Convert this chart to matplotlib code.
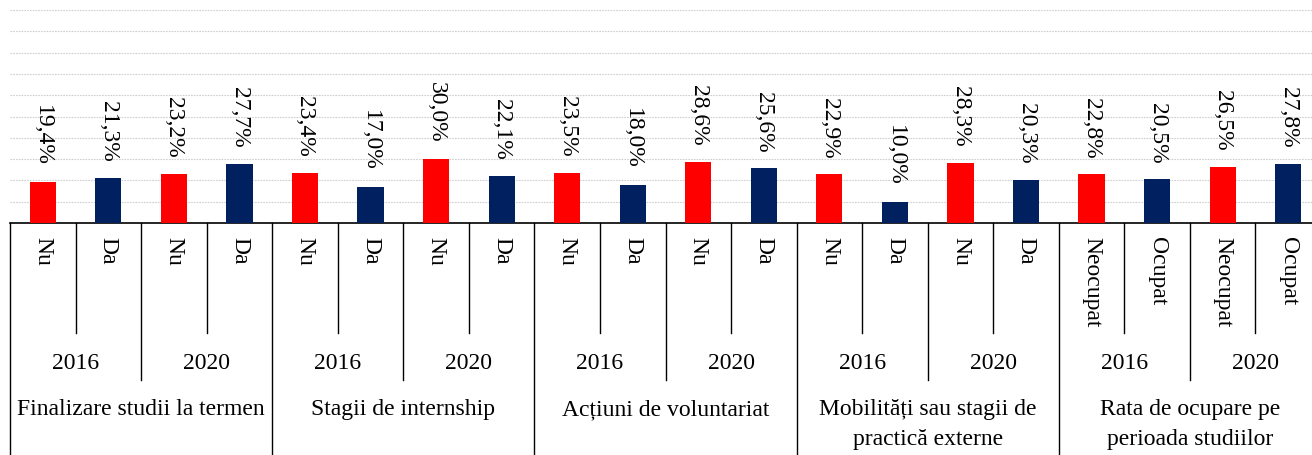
import matplotlib
matplotlib.use("Agg")
import matplotlib.pyplot as plt
from matplotlib.transforms import blended_transform_factory

plt.rcParams.update({'font.family': ['Liberation Serif', 'DejaVu Serif'], 'font.size': 17})

# grouped data: indicator -> year -> answer
groups = ['Finalizare studii la termen', 'Stagii de internship', 'Acțiuni de voluntariat',
          'Mobilități sau stagii de\npractică externe', 'Rata de ocupare pe\nperioada studiilor']
years = ['2016', '2020']
answers = [['Nu', 'Da'], ['Nu', 'Da'], ['Nu', 'Da'], ['Nu', 'Da'], ['Neocupat', 'Ocupat']]
values = [
    [19.4, 21.3, 23.2, 27.7],
    [23.4, 17.0, 30.0, 22.1],
    [23.5, 18.0, 28.6, 25.6],
    [22.9, 10.0, 28.3, 20.3],
    [22.8, 20.5, 26.5, 27.8],
]
colors = ['#ff0000', '#002060']

W, H = 1312, 455
fig = plt.figure(figsize=(W / 100, H / 100), dpi=100)
# axes run a little past the right edge of the canvas
ax = fig.add_axes([10 / W, 1 - 223 / H, 1311 / W, 213 / H])

labels, vals, cols = [], [], []
for g in range(len(groups)):
    for y in range(len(years)):
        for a in range(2):
            labels.append(answers[g][a])
            vals.append(values[g][2 * y + a])
            cols.append(colors[a])
xs = list(range(len(vals)))

ax.bar(xs, vals, width=0.4, color=cols, zorder=3)
for x, v in zip(xs, vals):
    ax.annotate(f'{v:.1f}%'.replace('.', ','), (x, v), xytext=(0, 16), textcoords='offset pixels',
                rotation=270, ha='center', va='bottom')

ax.set_xlim(-0.5, len(vals) - 0.5)
ax.set_ylim(0, 100)
ax.set_yticks(range(10, 101, 10))
ax.yaxis.grid(True, linestyle=(0, (1.5, 1)), color='#cfcfcf', linewidth=0.8, zorder=0)
ax.set_xticks([])
ax.tick_params(left=False, labelleft=False)
for s in ['top', 'right', 'left']:
    ax.spines[s].set_visible(False)
ax.spines['bottom'].set_color('black')
ax.spines['bottom'].set_linewidth(1.2)

# multi-level category axis below the plot
tr = blended_transform_factory(ax.transData, ax.transAxes)
px = 1 / 213
for k in range(len(vals) + 1):
    if k % 4 == 0:
        y0 = -1.2
    elif k % 2 == 0:
        y0 = -157 * px
    else:
        y0 = -110 * px
    ax.plot([k - 0.5, k - 0.5], [0, y0], color='black', lw=1, transform=tr, clip_on=False)

for x, lab in zip(xs, labels):
    ax.text(x, -14 * px, lab, rotation=270, ha='center', va='top', transform=tr)

for j in range(len(groups) * len(years)):
    ax.text(2 * j + 0.5, -140 * px, years[j % 2], ha='center', va='center', transform=tr)

for g, name in enumerate(groups):
    ax.text(4 * g + 1.5, -176 * px, name, ha='center', va='top', transform=tr, linespacing=1.55)

fig.savefig('out.png', dpi=100)
